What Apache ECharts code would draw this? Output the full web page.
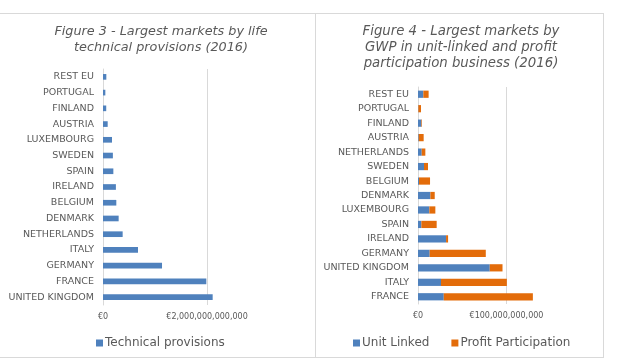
<!DOCTYPE html>
<html>
<head>
<meta charset="utf-8">
<script src="https://cdn.jsdelivr.net/npm/echarts@6/dist/echarts.min.js"></script>
<style>
html,body{margin:0;padding:0;background:#fff;}
#chart{width:626px;height:364px;}
</style>
</head>
<body>
<div id="chart"></div>
<script>
// Figure 3 data (top to bottom)
const leftCategories = ['REST EU','PORTUGAL','FINLAND','AUSTRIA','LUXEMBOURG','SWEDEN','SPAIN','IRELAND','BELGIUM','DENMARK','NETHERLANDS','ITALY','GERMANY','FRANCE','UNITED KINGDOM'];
const technicalProvisions = [64e9, 45e9, 62e9, 90e9, 173e9, 190e9, 199e9, 248e9, 256e9, 301e9, 378e9, 673e9, 1135e9, 1987e9, 2109e9];

// Figure 4 data (top to bottom)
const rightCategories = ['REST EU','PORTUGAL','FINLAND','AUSTRIA','NETHERLANDS','SWEDEN','BELGIUM','DENMARK','LUXEMBOURG','SPAIN','IRELAND','GERMANY','UNITED KINGDOM','ITALY','FRANCE'];
const unitLinked = [6.0e9, 0.4e9, 3.8e9, 0.8e9, 4.2e9, 6.8e9, 1.1e9, 14.0e9, 12.8e9, 3.8e9, 31.7e9, 13.2e9, 81.1e9, 26.0e9, 29.1e9];
const profitParticipation = [6.0e9, 3.0e9, 0.7e9, 5.6e9, 4.1e9, 4.5e9, 12.5e9, 4.9e9, 6.8e9, 17.3e9, 2.3e9, 63.4e9, 14.4e9, 74.4e9, 100.7e9];

const leftTitle = 'Figure 3 - Largest markets by life\ntechnical provisions (2016)';
const rightTitle = 'Figure 4 - Largest markets by\nGWP in unit-linked and profit\nparticipation business (2016)';

const FONT = 'DejaVu Sans';
const GRAY = '#595959';
const LINE = '#d9d9d9';

function euro(v) {
  return '€' + Math.round(v).toString().replace(/\B(?=(\d{3})+(?!\d))/g, ',');
}

const chart = echarts.init(document.getElementById('chart'), null, {renderer: 'canvas'});

function xAxisCfg(gridIndex, max, interval) {
  return {
    gridIndex: gridIndex, type: 'value', min: 0, max: max, interval: interval,
    axisLine: {show: false}, axisTick: {show: false},
    axisLabel: {formatter: euro, color: GRAY, fontFamily: FONT, fontSize: 8, margin: 8, showMaxLabel: false},
    splitLine: {show: true, showMinLine: false, showMaxLine: false, lineStyle: {color: LINE, width: 1}}
  };
}
function yAxisCfg(gridIndex, cats) {
  return {
    gridIndex: gridIndex, type: 'category', data: cats, inverse: true,
    axisLine: {show: true, lineStyle: {color: LINE}}, axisTick: {show: false},
    axisLabel: {color: GRAY, fontFamily: FONT, fontSize: 9.5, margin: 9}
  };
}

chart.setOption({
  animation: false,
  backgroundColor: '#fff',
  title: [
    {text: leftTitle, left: 156, top: 19, textAlign: 'center',
     textStyle: {fontFamily: FONT, fontStyle: 'italic', fontWeight: 'normal', fontSize: 12.8, color: GRAY, lineHeight: 16, align: 'center'}},
    {text: rightTitle, left: 456, top: 18, textAlign: 'center',
     textStyle: {fontFamily: FONT, fontStyle: 'italic', fontWeight: 'normal', fontSize: 13.3, color: GRAY, lineHeight: 16.3, align: 'center'}}
  ],
  legend: [
    {data: ['Technical provisions'], left: 91, top: 332, icon: 'rect', itemWidth: 7, itemHeight: 7, itemGap: 20,
     textStyle: {fontFamily: FONT, fontSize: 12, color: GRAY, padding: [0, 0, 0, -3]}},
    {data: ['Unit Linked', 'Profit Participation'], left: 348, top: 332, icon: 'rect', itemWidth: 7, itemHeight: 7, itemGap: 22,
     textStyle: {fontFamily: FONT, fontSize: 12, color: GRAY, padding: [0, 0, 0, -3]}}
  ],
  grid: [
    {left: 103, top: 69, width: 197.6, height: 236, containLabel: false},
    {left: 418, top: 87, width: 177, height: 217, containLabel: false}
  ],
  xAxis: [xAxisCfg(0, 3.8e12, 2e12), xAxisCfg(1, 200e9, 100e9)],
  yAxis: [yAxisCfg(0, leftCategories), yAxisCfg(1, rightCategories)],
  series: [
    {name: 'Technical provisions', type: 'bar', xAxisIndex: 0, yAxisIndex: 0, data: technicalProvisions,
     barCategoryGap: '64%', itemStyle: {color: '#4F81BD'}},
    {name: 'Unit Linked', type: 'bar', stack: 'gwp', xAxisIndex: 1, yAxisIndex: 1, data: unitLinked,
     barCategoryGap: '50%', itemStyle: {color: '#4F81BD'}},
    {name: 'Profit Participation', type: 'bar', stack: 'gwp', xAxisIndex: 1, yAxisIndex: 1, data: profitParticipation,
     barCategoryGap: '50%', itemStyle: {color: '#E36C0A'}}
  ],
  graphic: [
    {type: 'line', shape: {x1: 0, y1: 13.5, x2: 604, y2: 13.5}, style: {stroke: LINE, lineWidth: 1}, silent: true},
    {type: 'line', shape: {x1: 0, y1: 357.5, x2: 604, y2: 357.5}, style: {stroke: LINE, lineWidth: 1}, silent: true},
    {type: 'line', shape: {x1: 603.5, y1: 13, x2: 603.5, y2: 358}, style: {stroke: LINE, lineWidth: 1}, silent: true},
    {type: 'line', shape: {x1: 315.5, y1: 13, x2: 315.5, y2: 358}, style: {stroke: LINE, lineWidth: 1}, silent: true}
  ]
});
</script>
</body>
</html>
